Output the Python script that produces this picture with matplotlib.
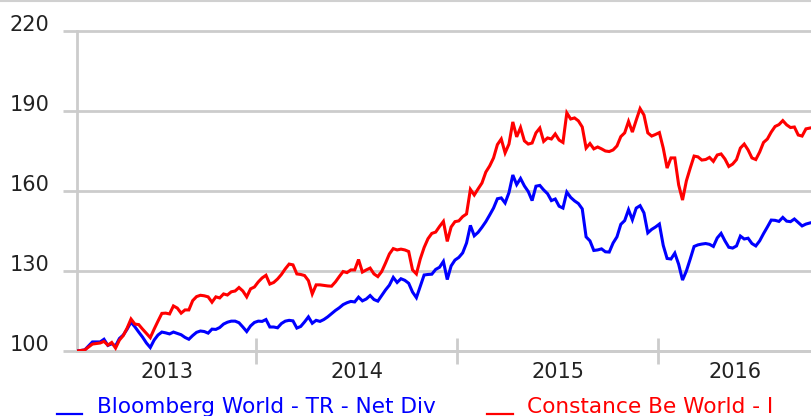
import matplotlib
matplotlib.use("Agg")
import matplotlib.pyplot as plt
import matplotlib.dates as mdates
from matplotlib.lines import Line2D
import pandas as pd
import numpy as np

# ---------------- data ----------------
start_date = "2013-02-10"
n_weeks = 191
dates = pd.date_range(start_date, periods=n_weeks, freq="7D")

bloomberg = [
    100.0, 100.2, 100.4, 101.9, 103.4, 103.4, 103.4, 104.4, 102.1, 102.7,
    101.9, 104.7, 106.0, 108.2, 110.8, 109.1, 107.1, 105.2, 103.0, 101.3,
    104.1, 106.0, 107.1, 106.8, 106.4, 107.1, 106.6, 106.1, 105.1, 104.4,
    105.8, 107.0, 107.5, 107.3, 106.7, 108.2, 108.1, 108.8, 110.1, 110.8,
    111.2, 111.2, 110.6, 109.0, 107.3, 109.4, 110.7, 111.2, 111.1, 111.8,
    109.0, 109.0, 108.7, 110.3, 111.2, 111.5, 111.3, 108.6, 109.2, 110.9,
    112.8, 110.4, 111.5, 111.1, 111.8, 112.8, 114.0, 115.2, 116.2, 117.4,
    118.1, 118.6, 118.4, 120.2, 118.8, 119.5, 120.8, 119.3, 118.7, 120.8,
    122.9, 124.7, 127.6, 125.7, 127.1, 126.5, 125.4, 122.1, 120.0, 124.3,
    128.5, 128.7, 128.8, 130.6, 131.4, 133.6, 126.8, 131.9, 134.1, 135.1,
    136.8, 140.5, 147.1, 143.2, 144.5, 146.4, 148.5, 151.0, 153.6, 157.1,
    157.4, 155.5, 159.4, 166.0, 162.4, 164.7, 161.9, 159.8, 156.4, 161.8,
    162.1, 160.4, 159.0, 156.4, 157.0, 154.3, 153.6, 159.6, 157.6, 156.3,
    155.3, 153.3, 142.8, 141.3, 137.7, 137.9, 138.3, 137.2, 137.1, 140.5,
    142.8, 147.5, 148.9, 153.0, 149.2, 153.6, 154.5, 151.8, 144.3, 145.6,
    146.5, 147.6, 139.6, 134.7, 134.5, 136.7, 132.5, 126.6, 130.0, 134.5,
    139.2, 139.8, 140.1, 140.3, 140.0, 139.2, 142.4, 144.1, 141.3, 138.9,
    138.6, 139.4, 143.1, 142.0, 142.3, 140.3, 139.4, 141.3, 144.0, 146.5,
    149.1, 149.0, 148.6, 150.1, 148.7, 148.5, 149.5, 148.2, 146.9, 147.6,
    148.0,
]

constance = [
    100.0, 100.2, 100.4, 101.5, 102.6, 102.8, 103.0, 103.6, 102.2, 103.2,
    101.1, 104.1, 105.8, 108.6, 112.0, 110.1, 109.9, 108.2, 106.6, 105.0,
    108.2, 111.2, 114.1, 114.2, 113.9, 116.9, 116.1, 114.2, 115.4, 115.4,
    118.9, 120.4, 120.9, 120.7, 120.3, 118.3, 120.3, 119.9, 121.4, 121.0,
    122.2, 122.5, 123.8, 122.5, 120.3, 123.3, 124.0, 125.9, 127.4, 128.4,
    125.1, 125.7, 127.0, 128.7, 130.8, 132.6, 132.3, 128.9, 128.7, 128.3,
    126.4, 121.4, 124.8, 124.8, 124.6, 124.4, 124.3, 125.9, 127.9, 129.8,
    129.4, 130.4, 130.4, 134.3, 129.6, 130.4, 131.1, 128.9, 127.9, 129.8,
    133.0, 136.4, 138.4, 137.9, 138.2, 137.9, 137.3, 130.4, 128.9, 134.5,
    138.8, 142.1, 144.1, 144.6, 146.7, 148.6, 141.1, 146.5, 148.5, 148.8,
    150.4, 151.4, 160.6, 158.5, 160.8, 163.0, 167.1, 169.4, 172.4, 177.4,
    179.5, 174.3, 177.6, 185.9, 180.3, 183.8, 178.8, 177.6, 178.0, 181.8,
    183.6, 178.6, 179.9, 179.5, 181.4, 179.1, 178.2, 189.3, 187.0, 187.4,
    186.3, 184.0, 176.1, 177.8, 175.8, 176.5, 175.8, 175.0, 174.8, 175.4,
    176.9, 180.4, 181.8, 186.1, 182.1, 186.6, 190.9, 188.5, 181.8, 180.6,
    181.2, 181.9, 176.1, 168.6, 172.4, 172.4, 162.3, 156.6, 163.8, 168.6,
    173.1, 172.8, 171.6, 171.8, 172.6, 171.1, 173.5, 173.9, 172.0, 169.2,
    170.1, 171.8, 176.1, 177.6, 175.4, 172.4, 171.8, 174.6, 178.2, 179.5,
    182.1, 184.2, 184.9, 186.4, 184.8, 183.8, 184.0, 181.0, 180.6, 183.3,
    183.6,
]

series_names = ["Bloomberg World - TR - Net Div", "Constance Be World - I"]
series_colors = ["#0000ff", "#ff0000"]
y_ticks = [100, 130, 160, 190, 220]
year_labels = ["2013", "2014", "2015", "2016"]
year_bounds = ["2014-01-01", "2015-01-01", "2016-01-01"]
x_range = ("2013-02-10", "2016-10-06")

# ---------------- figure ----------------
W, H = 812, 416
fig = plt.figure(figsize=(W / 100, H / 100), dpi=100)
ax = fig.add_axes([77 / W, 1 - 351 / H, 1 - 77 / W, (351 - 31) / H])

grid_col = "#cccccc"
lw_grid = 2.0

ax.plot(dates, bloomberg, color=series_colors[0], lw=2.2, solid_joinstyle="miter", zorder=3)
ax.plot(dates, constance, color=series_colors[1], lw=2.2, solid_joinstyle="miter", zorder=4)

x0, x1 = pd.Timestamp(x_range[0]), pd.Timestamp(x_range[1])
ax.set_xlim(x0, x1)
ax.set_ylim(100, 220)

# y axis
ax.set_yticks(y_ticks)
ax.set_yticklabels([str(v) for v in y_ticks])
ax.tick_params(axis="y", length=10, width=lw_grid, color=grid_col,
               pad=10, labelsize=15, labelcolor="#222222")
for lbl in ax.get_yticklabels():
    lbl.set_verticalalignment("baseline")
ax.yaxis.grid(True, color=grid_col, lw=lw_grid)
for gl in ax.get_ygridlines():
    gl.set_clip_on(False)

# x axis: boundaries as major ticks, year names centred in each interval
bnums = [mdates.date2num(pd.Timestamp(b)) for b in year_bounds]
edges = [mdates.date2num(x0)] + bnums + [mdates.date2num(x1)]
mids = [(edges[i] + edges[i + 1]) / 2 for i in range(len(edges) - 1)]
ax.set_xticks(bnums)
ax.set_xticklabels([""] * len(bnums))
ax.set_xticks(mids, minor=True)
ax.set_xticklabels(year_labels, minor=True)
ax.tick_params(axis="x", which="major", direction="inout", length=18.5,
               width=2.0, color=grid_col)
ax.tick_params(axis="x", which="minor", length=0, pad=8, labelsize=15,
               labelcolor="#222222")

for s in ["top", "right"]:
    ax.spines[s].set_visible(False)
for s in ["left", "bottom"]:
    ax.spines[s].set_color(grid_col)
    ax.spines[s].set_linewidth(lw_grid)

# top border of the picture
fig.add_artist(Line2D([0, 1], [1 - 0.8 / H, 1 - 0.8 / H], color="#d0d0d0", lw=1.5,
                      transform=fig.transFigure))

# legend (manual, handle sitting on baseline)
leg_y = 1 - 414 / H
handles_x = [(57, 82, 97), (487, 513, 527)]
for (hx0, hx1, tx), name, col in zip(handles_x, series_names, series_colors):
    fig.add_artist(Line2D([hx0 / W, hx1 / W], [leg_y, leg_y], color=col, lw=1.6,
                          transform=fig.transFigure))
    fig.text(tx / W, 1 - 413 / H, name, color=col, fontsize=15.6, va="baseline", ha="left")

fig.savefig("out.png", dpi=100)
